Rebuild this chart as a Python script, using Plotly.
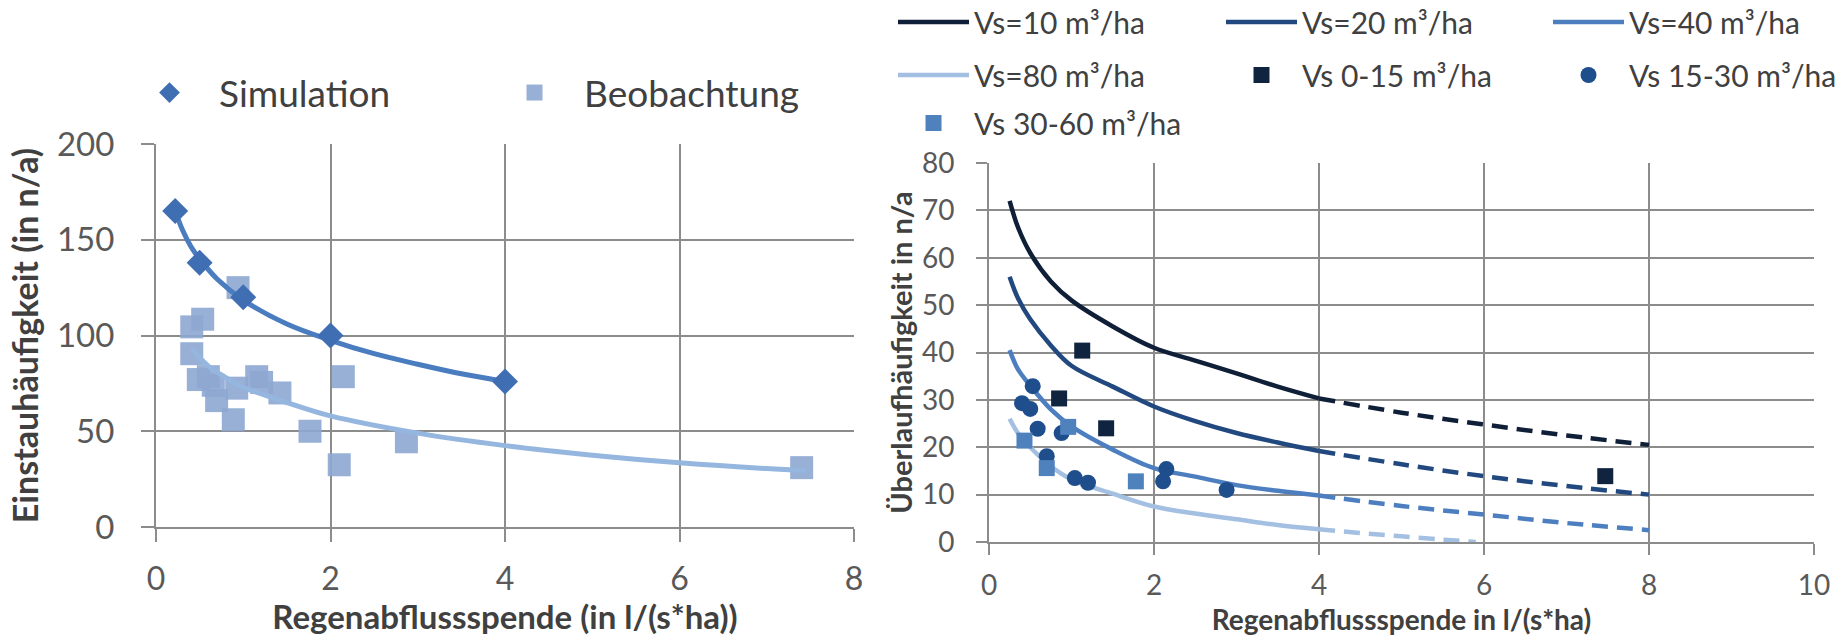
import plotly.graph_objects as go

# ---------------- Left chart data ----------------
sim_x = [0.22, 0.5, 1.0, 2.0, 4.0]
sim_y = [165, 138, 120, 100, 76]
sim_trend_x = [0.22, 0.3, 0.4, 0.5, 0.7, 1.0, 1.5, 2.0, 2.5, 3.0, 3.5, 4.0]
sim_trend_y = [165, 155.5, 146.5, 140, 129.5, 118.5, 106, 97.5, 90.5, 85, 80, 76]

obs_x = [0.94, 0.535, 0.41, 0.41, 0.485, 0.6, 0.657, 0.695, 0.886, 0.925,
         1.154, 1.21, 1.42, 1.765, 2.147, 2.1, 2.87, 7.4]
obs_y = [125, 108.5, 104.5, 90.5, 77, 78.5, 74, 66, 56, 72.5,
         78.5, 75.5, 70, 50, 78.5, 32.5, 44.5, 31]
obs_trend_x = [0.41, 0.6, 0.8, 1.0, 1.5, 2.0, 3.0, 4.0, 5.0, 6.0, 7.0, 7.45]
obs_trend_y = [93, 84, 78, 73, 65, 58, 49, 42.5, 37.5, 33.5, 30.5, 29.5]

# ---------------- Right chart data ----------------
curve_solid_x = [0.25, 0.35, 0.5, 0.75, 1.0, 1.5, 2.0, 2.5, 3.0, 3.5, 4.0]
vs10_solid = [72, 66.5, 61, 55, 51, 45.5, 41, 38.3, 35.6, 32.8, 30.3]
vs20_solid = [56, 51.5, 47, 41.5, 37.2, 32.8, 28.6, 25.5, 23, 21, 19.2]
vs40_solid = [40.5, 36.5, 33, 28, 24.4, 19.5, 15.6, 13.8, 12, 10.8, 9.8]
vs80_solid = [26, 23, 20, 16, 13.2, 10.2, 7.5, 6, 4.8, 3.6, 2.7]

curve_dash_x = [4.0, 5.0, 6.0, 7.0, 8.0]
vs10_dash = [30.3, 27.3, 24.8, 22.5, 20.5]
vs20_dash = [19.2, 16.4, 13.9, 11.8, 10.0]
vs40_dash = [9.8, 7.6, 5.8, 4.0, 2.5]
vs80_dash_x = [4.0, 4.5, 5.0, 5.5, 5.9]
vs80_dash = [2.7, 1.9, 1.2, 0.5, 0.0]

p0_15_x = [1.13, 0.85, 1.42, 7.47]
p0_15_y = [40.4, 30.3, 24.0, 13.9]
p15_30_x = [0.53, 0.40, 0.50, 0.59, 0.88, 0.70, 1.04, 1.20, 2.11, 2.15, 2.88]
p15_30_y = [32.9, 29.3, 28.1, 23.9, 23.0, 18.1, 13.5, 12.5, 12.8, 15.4, 11.0]
p30_60_x = [0.43, 0.96, 0.70, 1.78]
p30_60_y = [21.4, 24.3, 15.6, 12.8]

curve_names = ["Vs=10 m³/ha", "Vs=20 m³/ha", "Vs=40 m³/ha", "Vs=80 m³/ha"]
point_names = ["Vs 0-15 m³/ha", "Vs 15-30 m³/ha", "Vs 30-60 m³/ha"]

# ---------------- styles ----------------
FONT = "Lato, 'Open Sans', sans-serif"
GRID = "#8C8C8C"
TICKC = "#595959"
TITLEC = "#404040"
c_sim = "#3F6EB3"
c_sim_line = "#4A7CC0"
c_obs = "#8EA7D2"
c_obs_line = "#95B6DE"
c10, c20, c40, c80 = "#101F38", "#21497F", "#4D7FC0", "#A3BFE2"
cp1, cp2, cp3 = "#10233F", "#1F4E8C", "#4F81BD"

W, H = 1839, 636

fig = go.Figure()

# left chart traces
fig.add_trace(go.Scatter(x=obs_x, y=obs_y, mode="markers", name="Beobachtung",
                         marker=dict(symbol="square", size=23, color=c_obs, opacity=0.9),
                         xaxis="x", yaxis="y", legend="legend2"))
fig.add_trace(go.Scatter(x=sim_trend_x, y=sim_trend_y, mode="lines", showlegend=False,
                         line=dict(color=c_sim_line, width=5, shape="spline"),
                         xaxis="x", yaxis="y", hoverinfo="skip"))
fig.add_trace(go.Scatter(x=sim_x, y=sim_y, mode="markers", name="Simulation",
                         marker=dict(symbol="diamond", size=20, color=c_sim),
                         xaxis="x", yaxis="y", legend="legend"))
fig.add_trace(go.Scatter(x=obs_trend_x, y=obs_trend_y, mode="lines", showlegend=False,
                         line=dict(color=c_obs_line, width=5, shape="spline"),
                         xaxis="x", yaxis="y", hoverinfo="skip"))

# right chart curves
solids = [vs10_solid, vs20_solid, vs40_solid, vs80_solid]
dashes = [(curve_dash_x, vs10_dash), (curve_dash_x, vs20_dash),
          (curve_dash_x, vs40_dash), (vs80_dash_x, vs80_dash)]
cols = [c10, c20, c40, c80]
for i in range(4):
    fig.add_trace(go.Scatter(x=curve_solid_x, y=solids[i], mode="lines", name=curve_names[i],
                             line=dict(color=cols[i], width=4.5, shape="spline"),
                             xaxis="x2", yaxis="y2", legend="legend%d" % (3 + i)))
    fig.add_trace(go.Scatter(x=dashes[i][0], y=dashes[i][1], mode="lines", showlegend=False,
                             line=dict(color=cols[i], width=4.5, dash="16px,9px", shape="spline"),
                             xaxis="x2", yaxis="y2", hoverinfo="skip"))

fig.add_trace(go.Scatter(x=p0_15_x, y=p0_15_y, mode="markers", name=point_names[0],
                         marker=dict(symbol="square", size=16, color=cp1),
                         xaxis="x2", yaxis="y2", legend="legend7"))
fig.add_trace(go.Scatter(x=p15_30_x, y=p15_30_y, mode="markers", name=point_names[1],
                         marker=dict(symbol="circle", size=16, color=cp2),
                         xaxis="x2", yaxis="y2", legend="legend8"))
fig.add_trace(go.Scatter(x=p30_60_x, y=p30_60_y, mode="markers", name=point_names[2],
                         marker=dict(symbol="square", size=16, color=cp3),
                         xaxis="x2", yaxis="y2", legend="legend9"))


def ax(**kw):
    d = dict(showgrid=True, gridcolor=GRID, gridwidth=2, showline=True, linecolor=GRID,
             linewidth=2, ticks="outside", tickcolor=GRID, tickwidth=2, zeroline=False,
             fixedrange=True, automargin=False)
    d.update(kw)
    return d


def leg(x, y, yanchor, itemwidth, size):
    return dict(orientation="h", x=x / W, y=y, xanchor="left", yanchor=yanchor,
                itemwidth=itemwidth, font=dict(size=size, color=TITLEC, family=FONT),
                bgcolor="rgba(0,0,0,0)", borderwidth=0, itemclick=False,
                itemdoubleclick=False)


# right legend grid: item origins and row centres
col_x = [893, 1221, 1548]
row1_mid = 1 - 22 / H
row2_mid = 1 - 75 / H
row3_mid = 1 - 123 / H

fig.update_layout(
    width=W, height=H, autosize=False,
    margin=dict(l=0, r=0, t=0, b=0, autoexpand=False),
    paper_bgcolor="white", plot_bgcolor="white",
    font=dict(family=FONT, color=TICKC),
    xaxis=ax(domain=[156 / W, 854 / W], range=[0, 8], dtick=2, ticklen=13,
             tickfont=dict(size=32, color=TICKC), ticklabelstandoff=10,
             title=dict(text="Regenabflussspende (in l/(s*ha))", standoff=12,
                        font=dict(size=33, color=TITLEC, weight="bold")),
             anchor="y"),
    yaxis=ax(domain=[1 - 527 / H, 1 - 144 / H], range=[0, 200], dtick=50, ticklen=13,
             tickfont=dict(size=33, color=TICKC), ticklabelstandoff=20,
             title=dict(text="Einstauhäufigkeit (in n/a)", standoff=8,
                        font=dict(size=34, color=TITLEC, weight="bold")),
             anchor="x"),
    xaxis2=ax(domain=[989 / W, 1814 / W], range=[0, 10], dtick=2, ticklen=11,
              tickfont=dict(size=28, color=TICKC), ticklabelstandoff=6,
              title=dict(text="Regenabflussspende in l/(s*ha)", standoff=12,
                         font=dict(size=28, color=TITLEC, weight="bold")),
              anchor="y2"),
    yaxis2=ax(domain=[1 - 542 / H, 1 - 163 / H], range=[0, 80], dtick=10, ticklen=11,
              tickfont=dict(size=28, color=TICKC), ticklabelstandoff=16,
              title=dict(text="Überlaufhäufigkeit in n/a", standoff=1,
                         font=dict(size=29, color=TITLEC, weight="bold")),
              anchor="x2"),
    legend=leg(120, 1 - 93 / H, "middle", 89, 37),
    legend2=leg(485, 1 - 93 / H, "middle", 89, 37),
    legend3=leg(col_x[0], row1_mid, "middle", 71, 30),
    legend4=leg(col_x[1], row1_mid, "middle", 71, 30),
    legend5=leg(col_x[2], row1_mid, "middle", 71, 30),
    legend6=leg(col_x[0], row2_mid, "middle", 71, 30),
    legend7=leg(col_x[1], row2_mid, "middle", 71, 30),
    legend8=leg(col_x[2], row2_mid, "middle", 71, 30),
    legend9=leg(col_x[0], row3_mid, "middle", 71, 30),
    showlegend=True,
)

fig.write_html(
    "out.html",
    config={"displayModeBar": False},
    post_script="document.body.style.margin='0';document.body.style.padding='0';"
                "document.body.style.overflow='hidden';",
)
